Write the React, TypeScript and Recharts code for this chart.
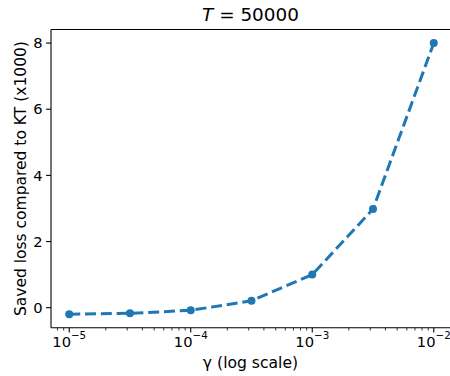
import { LineChart, Line, XAxis, YAxis, Label, ReferenceLine } from 'recharts'

const gammas = [1e-5, 3.162e-5, 1e-4, 3.162e-4, 1e-3, 3.162e-3, 1e-2]
const savedLoss = [-0.2, -0.17, -0.08, 0.21, 1.0, 2.98, 8.0]

const majorTicks = [1e-5, 1e-4, 1e-3, 1e-2]
const majorExponents = ['−5', '−4', '−3', '−2']
const minorTicks = [
  8e-6, 9e-6,
  2e-5, 3e-5, 4e-5, 5e-5, 6e-5, 7e-5, 8e-5, 9e-5,
  2e-4, 3e-4, 4e-4, 5e-4, 6e-4, 7e-4, 8e-4, 9e-4,
  2e-3, 3e-3, 4e-3, 5e-3, 6e-3, 7e-3, 8e-3, 9e-3,
]
const yTicks = [0, 2, 4, 6, 8]

const data = gammas.map((g, i) => ({ gamma: g, loss: savedLoss[i] }))

const FONT = '"DejaVu Sans", sans-serif'
const BLUE = '#1f77b4'
const xDomain = [Math.pow(10, -5.15), Math.pow(10, -1.85)]
const yDomain = [-0.605, 8.41]

const XTick = ({ x, y, payload }: any) => {
  const idx = majorTicks.findIndex((t) => Math.abs(t - payload.value) / t < 1e-6)
  if (idx < 0) {
    return <line x1={x} x2={x} y1={y} y2={y + 2.8} stroke="#000" strokeWidth={0.8} />
  }
  return (
    <g>
      <line x1={x} x2={x} y1={y} y2={y + 4.9} stroke="#000" strokeWidth={1.1} />
      <text x={x} y={y + 19} textAnchor="middle" fontSize={14.7} fontFamily={FONT} fill="#000">
        <tspan>10</tspan>
        <tspan dy={-8} fontSize={10.3}>{majorExponents[idx]}</tspan>
      </text>
    </g>
  )
}

export default function App() {
  return (
    <div style={{ position: 'absolute', left: 0, top: 0, width: 450, height: 376, overflow: 'hidden', background: '#fff' }}>
      <svg width={450} height={30} style={{ position: 'absolute', left: 0, top: 0 }}>
        <text x={250.5} y={21} textAnchor="middle" fontSize={18.4} fontFamily={FONT} fill="#000">
          <tspan fontStyle="italic">T</tspan>
          <tspan> = 50000</tspan>
        </text>
      </svg>
      <LineChart width={452} height={376} data={data} margin={{ top: 29.5, right: 0, bottom: 0, left: 0 }}>
        <XAxis
          dataKey="gamma"
          type="number"
          scale="log"
          domain={xDomain}
          allowDataOverflow
          ticks={[...minorTicks, ...majorTicks]}
          interval={0}
          height={48.3}
          tickSize={0}
          tickMargin={0}
          tickLine={false}
          tick={<XTick />}
          axisLine={{ stroke: '#000', strokeWidth: 1.1 }}
        >
          <Label
            content={() => (
              <text x={250.5} y={368} textAnchor="middle" fontSize={15.6} fontFamily={FONT} fill="#000">
                γ (log scale)
              </text>
            )}
          />
        </XAxis>
        <YAxis
          type="number"
          domain={yDomain}
          allowDataOverflow
          ticks={yTicks}
          width={51}
          tickSize={4.9}
          tickMargin={3.5}
          tick={{ fontSize: 14.7, fontFamily: FONT, fill: '#000' }}
          tickLine={{ stroke: '#000', strokeWidth: 1.1 }}
          axisLine={{ stroke: '#000', strokeWidth: 1.1 }}
        >
          <Label
            content={() => (
              <text
                x={26}
                y={178.6}
                transform="rotate(-90, 26, 178.6)"
                textAnchor="middle"
                fontSize={15.5}
                fontFamily={FONT}
                fill="#000"
              >
                Saved loss compared to KT (x1000)
              </text>
            )}
          />
        </YAxis>
        <ReferenceLine y={yDomain[1]} stroke="#000" strokeWidth={1.1} />
        <Line
          dataKey="loss"
          stroke={BLUE}
          strokeWidth={3}
          strokeDasharray="11 4.8"
          dot={{ r: 4, fill: BLUE, stroke: BLUE, strokeWidth: 0, strokeDasharray: '' }}
          activeDot={false}
          isAnimationActive={false}
        />
      </LineChart>
    </div>
  )
}
